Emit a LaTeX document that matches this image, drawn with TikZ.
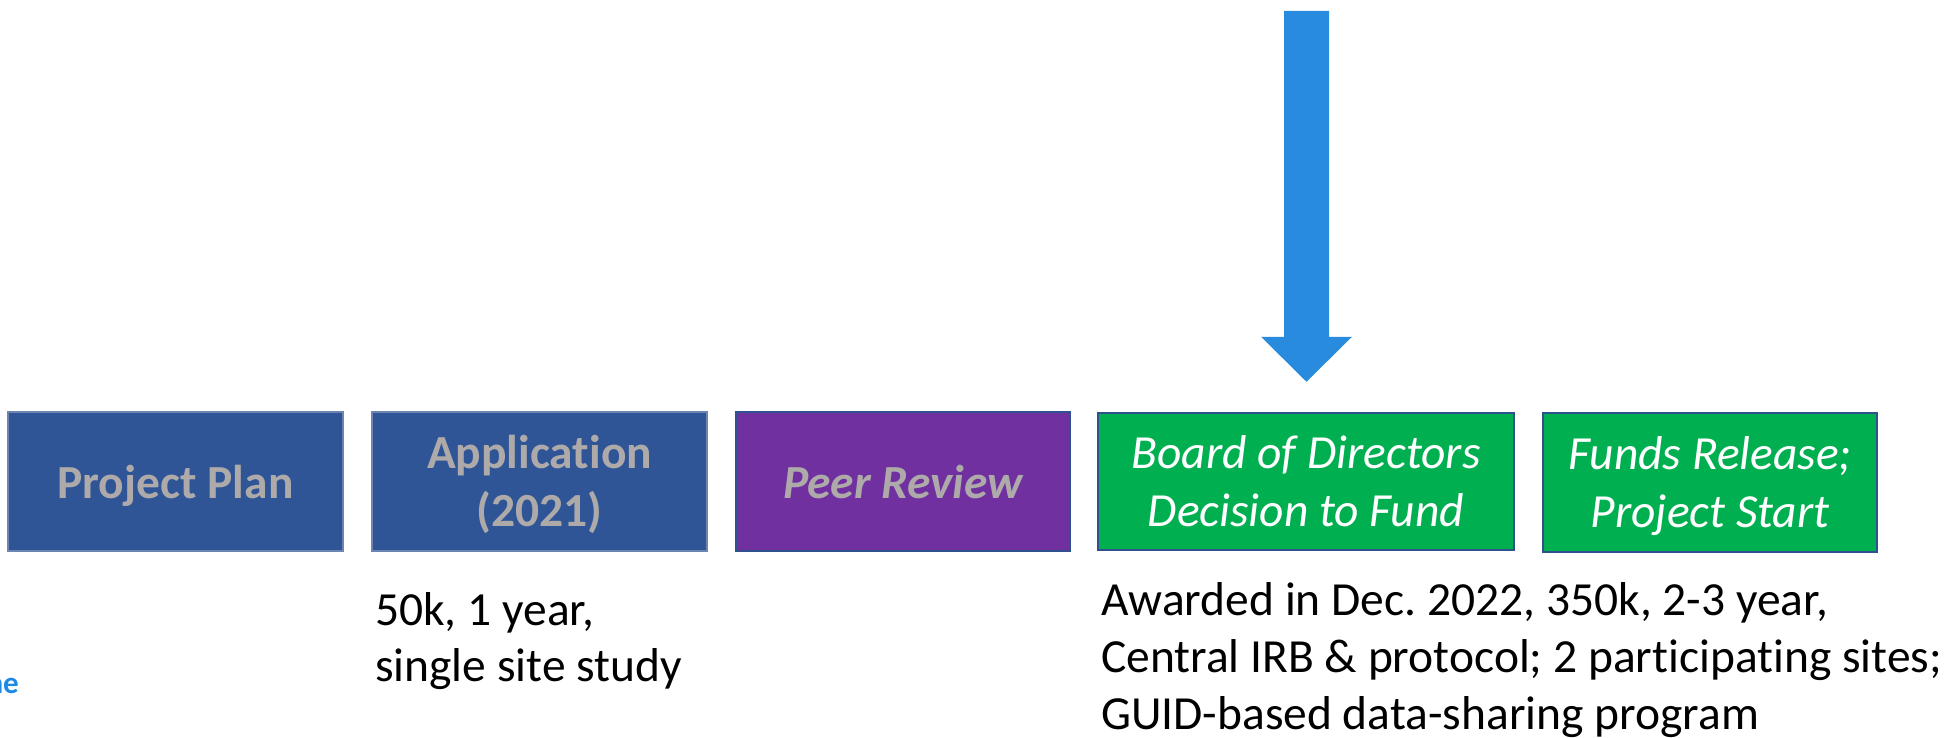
\documentclass[tikz,border=0pt]{standalone}
\usepackage{fontspec}
\setmainfont{Carlito}[Ligatures={NoCommon,NoRequired,NoContextual}]
\frenchspacing
\usetikzlibrary{calc}
\definecolor{boxblue}{HTML}{2F5597}
\definecolor{boxpurple}{HTML}{7030A0}
\definecolor{boxgreen}{HTML}{00B050}
\definecolor{labelgray}{HTML}{AEAAAA}
\definecolor{edgeblue}{HTML}{2F528F}
\definecolor{arrowblue}{HTML}{298BDE}
\definecolor{logoblue}{HTML}{1E88E5}
\begin{document}
\begin{tikzpicture}[x=1pt,y=-1pt]
\useasboundingbox[fill=white] (0,0) rectangle (1954,738);
\tikzset{
  stage/.style={rectangle, inner sep=0pt, anchor=center,
    font=\fontsize{47.5}{58}\selectfont},
  oneline/.style={text height=40pt, text depth=7pt},
  twoline/.style={text height=40pt, text depth=67pt},
  bluestage/.style={stage, fill=boxblue, draw=edgeblue!70!white, line width=1.2pt,
    text=labelgray, minimum width=335pt, minimum height=139pt},
  purplestage/.style={stage, fill=boxpurple, draw=edgeblue, line width=1.6pt,
    text=labelgray, minimum width=334pt, minimum height=139pt},
  greenstage/.style={stage, fill=boxgreen, draw=edgeblue, line width=2.5pt,
    text=white, minimum height=137pt},
  note/.style={inner sep=0pt, anchor=base west, text=black},
}
\node[bluestage, oneline, font=\fontsize{47.5}{58}\selectfont\bfseries] (plan) at (175.5,481.5) {Project Plan};
\node[bluestage, twoline, font=\fontsize{47.5}{58}\selectfont\bfseries] (app) at (539.5,481.5)
  {\begin{tabular}[t]{@{}c@{}}Application\\(2021)\end{tabular}};
\node[purplestage, oneline, font=\fontsize{47.5}{58}\selectfont\bfseries\itshape] (peer) at (903,481.5) {Peer Review};
\node[greenstage, twoline, minimum width=416pt, font=\fontsize{47.5}{58}\selectfont\itshape] (board) at (1306,481.5)
  {\begin{tabular}[t]{@{}c@{}}Board of Directors\\Decision to Fund\end{tabular}};
\node[greenstage, twoline, minimum width=334pt, minimum height=139pt, font=\fontsize{47.5}{58}\selectfont\itshape] (funds) at (1710,482.5)
  {\begin{tabular}[t]{@{}c@{}}Funds Release;\\Project Start\end{tabular}};
\node[note, font=\fontsize{47.5}{56}\selectfont] (appnote) at (375,625)
  {\begin{tabular}[t]{@{}l@{}}50k, 1 year,\\single site study\end{tabular}};
\node[note, font=\fontsize{47.5}{57}\selectfont] (boardnote) at (1101,615)
  {\begin{tabular}[t]{@{}l@{}}Awarded in Dec. 2022, 350k, 2-3 year,\\Central IRB \& protocol; 2 participating sites;\\GUID-based data-sharing program\end{tabular}};
\node[inner sep=0pt, anchor=base east, text=logoblue, font=\fontsize{31}{34}\selectfont\bfseries] (logo) at (19,693) {ne};
\coordinate (atop) at (1306.5,11);
\coordinate (tip) at ($(board.north)+(0.5,-30)$);
\fill[arrowblue] ($(atop)+(-22.5,0)$) -- ($(atop)+(22.5,0)$) -- ($(tip)+(22.5,-45)$)
  -- ($(tip)+(45.5,-45)$) -- (tip) -- ($(tip)+(-45.5,-45)$) -- ($(tip)+(-22.5,-45)$) -- cycle;
\end{tikzpicture}
\end{document}
